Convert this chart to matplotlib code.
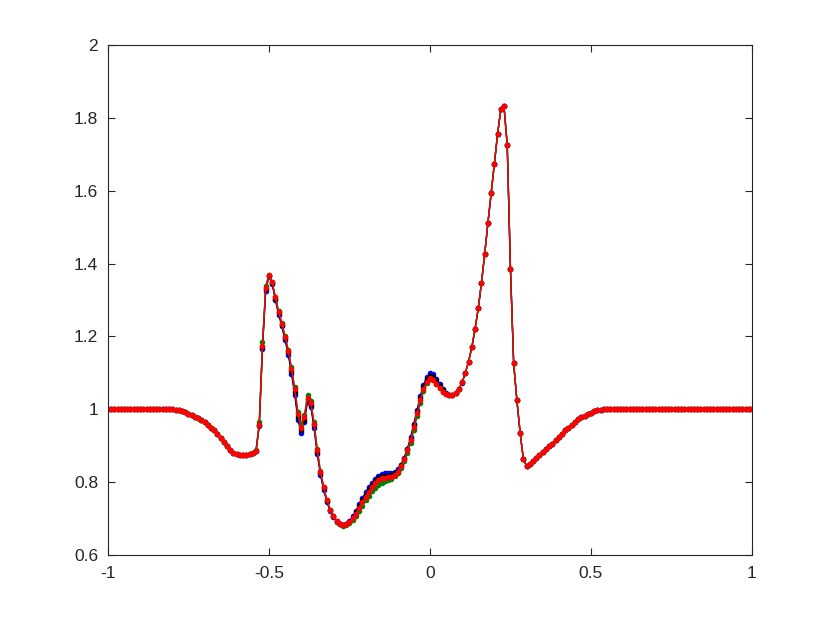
import numpy as np
import matplotlib
matplotlib.use("Agg")
import matplotlib.pyplot as plt

plt.rcParams['font.family'] = ['Liberation Sans', 'DejaVu Sans']

# grid x = -1 : 0.01 : 1  (201 points)
x = np.linspace(-1.0, 1.0, 201)

# left part: x = -1.00 .. -0.55  (indices 0..45)
left = [1.0, 1.0, 1.0, 1.0, 1.0, 1.0, 1.0, 1.0, 1.0, 1.0,
        1.0, 1.0, 1.0, 1.0, 1.0, 1.0, 1.0, 1.0, 1.0, 1.0,
        1.0,
        0.999, 0.998, 0.995, 0.992, 0.988, 0.984, 0.980, 0.976, 0.971, 0.965,
        0.958, 0.950, 0.942, 0.932, 0.921, 0.910, 0.899, 0.889, 0.881, 0.877,
        0.875, 0.874, 0.875, 0.877, 0.879]

# middle part: x = -0.54 .. 0.10 (indices 46..110)
red_mid = [0.886, 0.958, 1.174, 1.332, 1.368, 1.348, 1.307, 1.268, 1.235, 1.199,
           1.161, 1.111, 1.055, 0.987, 0.950, 0.978, 1.032, 1.018, 0.961, 0.888,
           0.829, 0.786, 0.751, 0.725, 0.707, 0.693, 0.686, 0.683, 0.684, 0.691,
           0.701, 0.714, 0.730, 0.746, 0.760, 0.774, 0.786, 0.797, 0.806, 0.811,
           0.812, 0.813, 0.815, 0.820, 0.829, 0.844, 0.863, 0.888, 0.916, 0.952,
           0.989, 1.025, 1.055, 1.076, 1.085, 1.081, 1.070, 1.058, 1.048, 1.041,
           1.038, 1.040, 1.046, 1.056, 1.074]
blue_mid = [0.886, 0.955, 1.166, 1.325, 1.365, 1.344, 1.300, 1.260, 1.228, 1.190,
            1.150, 1.098, 1.040, 0.972, 0.934, 0.966, 1.021, 1.007, 0.950, 0.878,
            0.820, 0.779, 0.746, 0.721, 0.704, 0.692, 0.685, 0.683, 0.686, 0.694,
            0.706, 0.721, 0.739, 0.756, 0.772, 0.786, 0.798, 0.809, 0.817, 0.822,
            0.824, 0.824, 0.825, 0.828, 0.835, 0.848, 0.867, 0.892, 0.923, 0.960,
            0.998, 1.036, 1.067, 1.089, 1.099, 1.096, 1.084, 1.069, 1.056, 1.046,
            1.040, 1.040, 1.045, 1.055, 1.073]
black_mid = [0.886, 0.957, 1.170, 1.329, 1.367, 1.346, 1.304, 1.264, 1.232, 1.195,
             1.156, 1.105, 1.048, 0.980, 0.942, 0.972, 1.027, 1.013, 0.956, 0.883,
             0.825, 0.783, 0.749, 0.723, 0.706, 0.693, 0.686, 0.683, 0.685, 0.692,
             0.703, 0.717, 0.734, 0.751, 0.766, 0.780, 0.792, 0.803, 0.811, 0.816,
             0.818, 0.818, 0.820, 0.824, 0.832, 0.846, 0.865, 0.890, 0.919, 0.956,
             0.993, 1.030, 1.061, 1.083, 1.092, 1.089, 1.077, 1.063, 1.052, 1.043,
             1.039, 1.040, 1.046, 1.056, 1.074]
green_mid = [0.888, 0.965, 1.185, 1.338, 1.369, 1.349, 1.309, 1.270, 1.237, 1.202,
             1.164, 1.115, 1.060, 0.993, 0.958, 0.984, 1.040, 1.022, 0.964, 0.890,
             0.830, 0.787, 0.751, 0.725, 0.706, 0.692, 0.684, 0.681, 0.682, 0.687,
             0.696, 0.707, 0.721, 0.736, 0.750, 0.763, 0.775, 0.785, 0.793, 0.799,
             0.803, 0.806, 0.810, 0.816, 0.826, 0.840, 0.858, 0.881, 0.908, 0.943,
             0.981, 1.018, 1.050, 1.072, 1.082, 1.080, 1.070, 1.058, 1.048, 1.041,
             1.038, 1.040, 1.046, 1.056, 1.074]

# right part: x = 0.11 .. 1.00 (indices 111..200)
right = [1.100, 1.131, 1.170, 1.220, 1.277, 1.347, 1.426, 1.511, 1.593, 1.673,
         1.755, 1.823, 1.831, 1.725, 1.385, 1.126, 1.025, 0.936, 0.864, 0.844,
         0.851, 0.858, 0.866, 0.874, 0.882, 0.890, 0.898, 0.906, 0.915, 0.924,
         0.933, 0.942, 0.950, 0.958, 0.966, 0.973, 0.979, 0.982, 0.987, 0.991,
         0.995, 0.997, 0.999,
         1.0, 1.0, 1.0, 1.0, 1.0, 1.0, 1.0, 1.0, 1.0, 1.0,
         1.0, 1.0, 1.0, 1.0, 1.0, 1.0, 1.0, 1.0, 1.0, 1.0,
         1.0, 1.0, 1.0, 1.0, 1.0, 1.0, 1.0, 1.0, 1.0, 1.0,
         1.0, 1.0, 1.0, 1.0, 1.0, 1.0, 1.0, 1.0, 1.0, 1.0,
         1.0, 1.0, 1.0, 1.0, 1.0, 1.0, 1.0]

series = [
    (left + blue_mid + right, 'blue'),
    (left + black_mid + right, 'black'),
    (left + green_mid + right, 'green'),
    (left + red_mid + right, 'red'),
]

xticks = [-1, -0.5, 0, 0.5, 1]
xticklabels = ['-1', '-0.5', '0', '0.5', '1']
yticks = [0.6, 0.8, 1.0, 1.2, 1.4, 1.6, 1.8, 2.0]
yticklabels = ['0.6', '0.8', '1', '1.2', '1.4', '1.6', '1.8', '2']

fig = plt.figure(figsize=(8.3, 6.23), dpi=100)
ax = fig.add_axes([0.13, 0.109, 0.776, 0.819])

colors = {'blue': '#0000ff', 'black': '#000000', 'green': '#008000', 'red': '#ff0000'}
for y, c in series:
    ax.plot(x, y, '-', color=colors[c], lw=1.0, marker='o', ms=3.0,
            mec=colors[c], mfc=colors[c])

ax.set_xlim(-1, 1)
ax.set_ylim(0.6, 2.0)
ax.set_xticks(xticks)
ax.set_xticklabels(xticklabels)
ax.set_yticks(yticks)
ax.set_yticklabels(yticklabels)

gray = '#262626'
for s in ax.spines.values():
    s.set_color(gray)
    s.set_linewidth(0.8)
ax.tick_params(direction='in', top=True, right=True, length=5, width=0.8,
               colors=gray, labelsize=12.5)
ax.tick_params(axis='x', pad=8)
ax.tick_params(axis='y', pad=7)

fig.savefig('out.png', dpi=100)
